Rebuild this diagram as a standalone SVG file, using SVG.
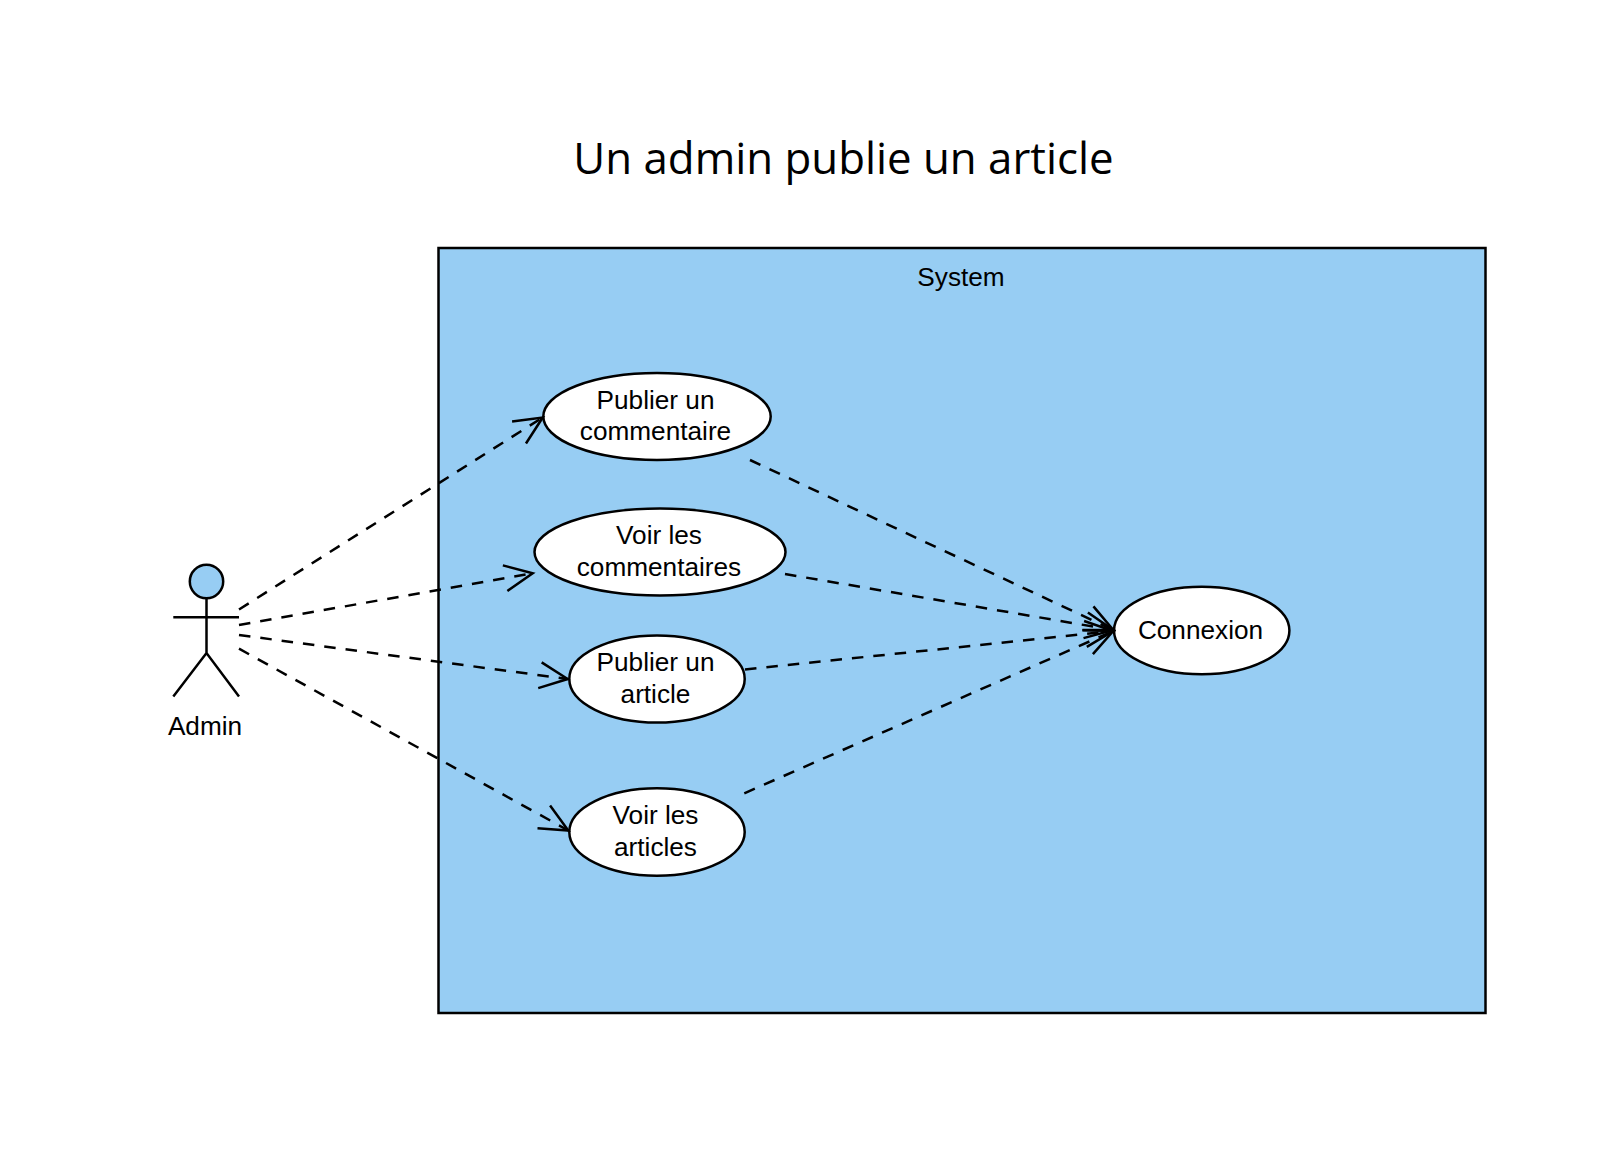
<svg xmlns="http://www.w3.org/2000/svg" width="1620" height="1159" viewBox="0 0 1620 1159">
<style>
text{font-family:"Liberation Sans",Arial,sans-serif;font-size:26.2px;fill:#000;text-anchor:middle}
.title{font-family:"Open Sans","Noto Sans",sans-serif;font-size:43.8px}
.uc{fill:#fff;stroke:#000;stroke-width:2.5}
.dep{fill:none;stroke:#000;stroke-width:2.5;stroke-dasharray:11.5 10;marker-end:url(#open)}
.act{fill:none;stroke:#000;stroke-width:2.5}
</style>
<defs>
<marker id="open" markerUnits="userSpaceOnUse" orient="auto" overflow="visible" refX="0" refY="0" markerWidth="40" markerHeight="40">
<path d="M-28-13L0 0L-28 13" fill="none" stroke="#000" stroke-width="2.5" stroke-dasharray="none"/>
</marker>
</defs>
<rect width="1620" height="1159" fill="#fff"/>
<text class="title" x="843.5" y="174">Un admin publie un article</text>
<g id="system">
<rect x="438.5" y="248" width="1047" height="765" fill="#97cdf3" stroke="#000" stroke-width="2.5"/>
<text x="961" y="286">System</text>
</g>
<g id="admin">
<circle cx="206.5" cy="581.5" r="16.7" fill="#97cdf3" stroke="#000" stroke-width="2.5"/>
<path class="act" d="M206.5 598V653M173.3 617.3H239M173.3 696.5L206.5 653L239 696.5"/>
<text x="205" y="735">Admin</text>
</g>
<g id="uc-publier-commentaire">
<ellipse class="uc" cx="657" cy="416.5" rx="113.7" ry="43.5"/>
<text x="655.5" y="409">Publier un</text>
<text x="655.5" y="440">commentaire</text>
</g>
<g id="uc-voir-commentaires">
<ellipse class="uc" cx="660" cy="552" rx="125.5" ry="43.5"/>
<text x="659" y="544">Voir les</text>
<text x="659" y="576">commentaires</text>
</g>
<g id="uc-publier-article">
<ellipse class="uc" cx="657" cy="679" rx="87.7" ry="43.5"/>
<text x="655.5" y="671">Publier un</text>
<text x="655.5" y="703">article</text>
</g>
<g id="uc-voir-articles">
<ellipse class="uc" cx="657" cy="832" rx="87.7" ry="43.8"/>
<text x="655.5" y="824">Voir les</text>
<text x="655.5" y="856">articles</text>
</g>
<g id="uc-connexion">
<ellipse class="uc" cx="1201.7" cy="630.5" rx="87.7" ry="43.8"/>
<text x="1200.5" y="639">Connexion</text>
</g>
<g id="connectors">
<path class="dep" d="M239 609.5L542.7 417.5"/>
<path class="dep" d="M239 625L532.7 573.3"/>
<path class="dep" d="M239 635L567.7 679"/>
<path class="dep" d="M239 648.7L568.3 830.5"/>
<path class="dep" d="M750 460L1113.3 630"/>
<path class="dep" d="M785 574L1113.3 630"/>
<path class="dep" d="M745 669.5L1113.3 631"/>
<path class="dep" d="M744.3 793.3L1113.3 631"/>
</g>
</svg>
